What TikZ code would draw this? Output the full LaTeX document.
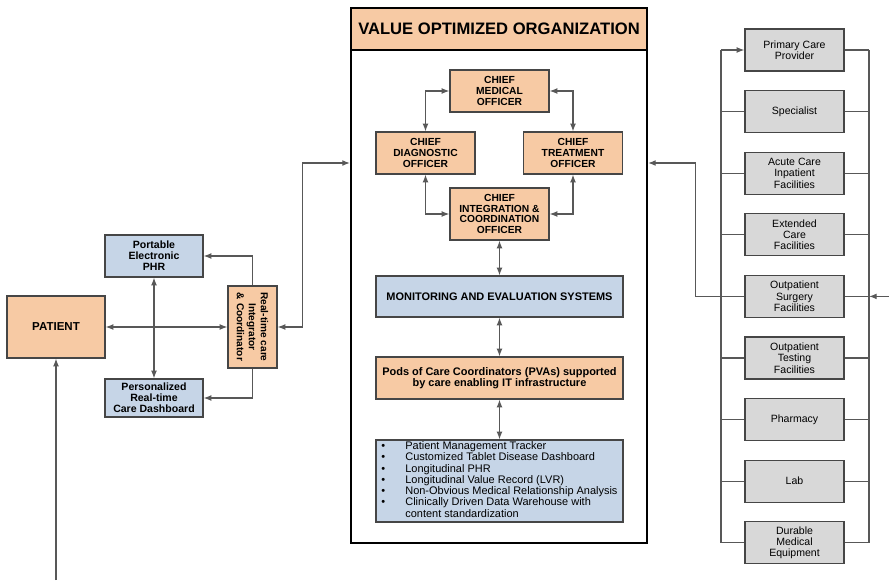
\documentclass[tikz,border=0pt]{standalone}
\usepackage{fontspec}
\setmainfont{Liberation Sans}
\usetikzlibrary{arrows.meta, calc, positioning}

\definecolor{peach}{RGB}{247,202,164}
\definecolor{steel}{RGB}{198,213,231}
\definecolor{ash}{RGB}{216,216,216}
\definecolor{wire}{RGB}{88,88,88}
\definecolor{rim}{RGB}{70,70,70}

\tikzset{
    box/.style={draw=rim, line width=0.9pt, align=center, inner sep=1pt},
    orgbox/.style={box, fill=peach, font=\fontsize{7.3}{7.7}\selectfont\bfseries,
        minimum width=2.475cm, minimum height=1.05cm},
    sysbox/.style={box, fill=steel, font=\fontsize{7.8}{8.2}\selectfont\bfseries,
        minimum width=6.175cm, minimum height=1.025cm},
    sidebox/.style={box, font=\fontsize{7.5}{7.7}\selectfont\bfseries,
        minimum width=2.45cm, minimum height=1.05cm},
    facbox/.style={box, fill=ash, draw=rim, font=\fontsize{7.5}{8}\selectfont,
        minimum width=2.475cm, minimum height=1.05cm},
    link/.style={draw=wire, line width=0.85pt},
}

\begin{document}
\begin{tikzpicture}[x=0.025cm, y=-0.025cm, >={Latex[length=5.5pt,width=4.2pt]}]
    \useasboundingbox (0,0) rectangle (889,580);

    % organization frame with its title bar
    \node[draw=black, line width=1.8pt, minimum width=7.4cm, minimum height=13.375cm,
        inner sep=0pt] (voo) at (499,275.5) {};
    \node[draw=black, line width=1.8pt, fill=peach, minimum width=7.4cm, minimum height=1.05cm,
        font=\fontsize{11.8}{13}\selectfont\bfseries] (vootitle) at (499,29)
        {VALUE OPTIMIZED ORGANIZATION};
    \coordinate (vooL) at (350,163);
    \coordinate (vooR) at (648,163);

    % chief officers
    \node[orgbox] (cmo) at (499.5,91) {CHIEF\\MEDICAL\\OFFICER};
    \node[orgbox] (cdo) at (425.5,153) {CHIEF\\DIAGNOSTIC\\OFFICER};
    \node[orgbox] (cto) at (573,153) {CHIEF\\TREATMENT\\OFFICER};
    \node[orgbox, minimum height=1.3cm] (cico) at (499.5,214)
        {CHIEF\\INTEGRATION \&\\COORDINATION\\OFFICER};

    \draw[link,<->] (cdo.north) |- (cmo.west);
    \draw[link,<->] (cto.north) |- (cmo.east);
    \draw[link,<->] (cdo.south) |- (cico.west);
    \draw[link,<->] (cto.south) |- (cico.east);

    % systems stack
    \node[sysbox] (mes) at (499.5,296.5) {MONITORING AND EVALUATION SYSTEMS};
    \node[sysbox, fill=peach, minimum height=1.05cm] (pods) at (499.5,378)
        {Pods of Care Coordinators (PVAs) supported\\by care enabling IT infrastructure};
    \node[sysbox, minimum height=2.05cm, font=\fontsize{7.8}{7.9}\selectfont] (tools) at (499.5,481) {%
        \begin{tabular}{@{}p{17pt}@{}l@{}}
            \textbullet & Patient Management Tracker\\
            \textbullet & Customized Tablet Disease Dashboard\\
            \textbullet & Longitudinal PHR\\
            \textbullet & Longitudinal Value Record (LVR)\\
            \textbullet & Non-Obvious Medical Relationship Analysis\\
            \textbullet & Clinically Driven Data Warehouse with\\
                        & content standardization
        \end{tabular}};

    \draw[link,<->] (cico.south) -- (mes.north);
    \draw[link,<->] (mes.south) -- (pods.north);
    \draw[link,<->] (pods.south) -- (tools.north);

    % patient side
    \node[sidebox, fill=peach, minimum height=1.55cm, font=\fontsize{8.2}{9}\selectfont\bfseries]
        (patient) at (56,327) {PATIENT};
    \node[sidebox, fill=steel] (phr) at (154,256) {Portable\\Electronic\\PHR};
    \node[sidebox, fill=steel, minimum height=0.95cm] (dash) at (154,398)
        {Personalized\\Real-time\\Care Dashboard};
    \node[box, fill=peach, minimum width=1.225cm, minimum height=2.05cm] (rtc) at (252.5,327) {};
    \node[rotate=-90, align=center, font=\fontsize{7.2}{8.6}\selectfont\bfseries] (rtclabel) at (rtc)
        {Real-time care\\Integrator\\\& Coordinator};
    \coordinate (pin) at (56,580);

    \draw[link,<->] (phr.south) -- (dash.north);
    \draw[link,<->] (patient.east) -- (rtc.west);
    \draw[link,->] (rtc.north) |- (phr.east);
    \draw[link,->] (rtc.south) |- (dash.east);
    \draw[link,<->] (rtc.east) -- ++(25,0) |- (vooL);
    \draw[link,->] (pin) -- (patient.south);

    % care facilities
    \foreach \i/\txt in {1/{Primary Care\\Provider}, 2/Specialist,
        3/{Acute Care\\Inpatient\\Facilities}, 4/{Extended\\Care\\Facilities},
        5/{Outpatient\\Surgery\\Facilities}, 6/{Outpatient\\Testing\\Facilities},
        7/Pharmacy, 8/Lab, 9/{Durable\\Medical\\Equipment}} {
        \node[facbox] (fac\i) at (794.5,{50+61.6*(\i-1)}) {\txt};
    }
    \coordinate (busL) at (721,0);
    \coordinate (busR) at (869,0);
    \coordinate (feed) at (889,296.4);

    \draw[link] (busL |- fac1.west) -- (busL |- fac9.west);
    \draw[link] (busR |- fac1.east) -- (busR |- fac9.east);
    \draw[link,->] (busL |- fac1.west) -- (fac1.west);
    \foreach \i in {2,...,9}
        \draw[link] (busL |- fac\i.west) -- (fac\i.west);
    \foreach \i in {1,...,9}
        \draw[link] (fac\i.east) -- (busR |- fac\i.east);
    \draw[link,->] (feed) -- (feed -| busR);
    \draw[link,->] (fac5.west) -- ++(-49,0) |- (vooR);
\end{tikzpicture}
\end{document}
